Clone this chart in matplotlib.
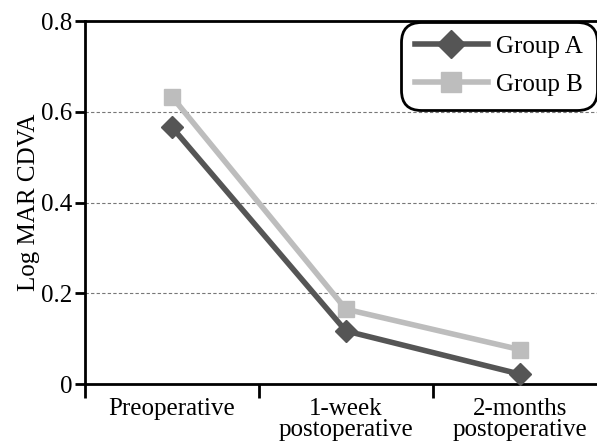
import matplotlib
matplotlib.use('Agg')
import matplotlib.pyplot as plt

# Datos
categorias = ['Preoperative', '1-week\npostoperative', '2-months\npostoperative']
grupo_a = [0.566, 0.117, 0.022]
grupo_b = [0.633, 0.165, 0.076]

plt.rcParams['font.family'] = ['Liberation Serif', 'DejaVu Serif']

fig = plt.figure(figsize=(5.97, 4.44), dpi=100)
ax = fig.add_axes([0.1424, 0.135, 0.874, 0.8176])

x = list(range(len(categorias)))
ax.plot(x, grupo_a, color='#555555', lw=4, marker='D', ms=11.5, label='Group A', clip_on=False, zorder=4)
ax.plot(x, grupo_b, color='#bdbdbd', lw=4, marker='s', ms=11, label='Group B', clip_on=False, zorder=3)

ax.set_xlim(-0.5, 2.5)
ax.set_ylim(0, 0.8)
ax.set_yticks([0, 0.2, 0.4, 0.6, 0.8])
ax.set_yticklabels(['0', '0.2', '0.4', '0.6', '0.8'], fontsize=18)
ax.set_ylabel('Log MAR CDVA', fontsize=18, labelpad=1)

# ticks entre categorias, etiquetas centradas
ax.set_xticks([-0.5, 0.5, 1.5])
ax.set_xticklabels([])
ax.set_xticks(x, minor=True)
ax.set_xticklabels(categorias, minor=True, fontsize=18, linespacing=0.92)
ax.tick_params(axis='x', which='minor', length=0, pad=10)
ax.tick_params(axis='x', which='major', length=10, width=2, direction='out')
ax.tick_params(axis='y', length=7, width=2, direction='out', pad=2)

for s in ['left', 'bottom', 'top']:
    ax.spines[s].set_linewidth(2)
ax.spines['right'].set_visible(False)

for v in [0.2, 0.4, 0.6]:
    ax.axhline(v, color='#777777', lw=0.8, ls=(0, (3, 2)), zorder=1)

leg = ax.legend(loc='upper right', bbox_to_anchor=(1.0, 0.951), bbox_transform=fig.transFigure,
                fontsize=18, fancybox=True, framealpha=1, edgecolor='black',
                handlelength=2.9, borderpad=0.55, labelspacing=0.62, handletextpad=0.35,
                borderaxespad=0, markerscale=1.25)
leg.get_frame().set_linewidth(2)
leg.get_frame().set_boxstyle('round', pad=0.0, rounding_size=0.8)

fig.savefig('out.png', dpi=100)
